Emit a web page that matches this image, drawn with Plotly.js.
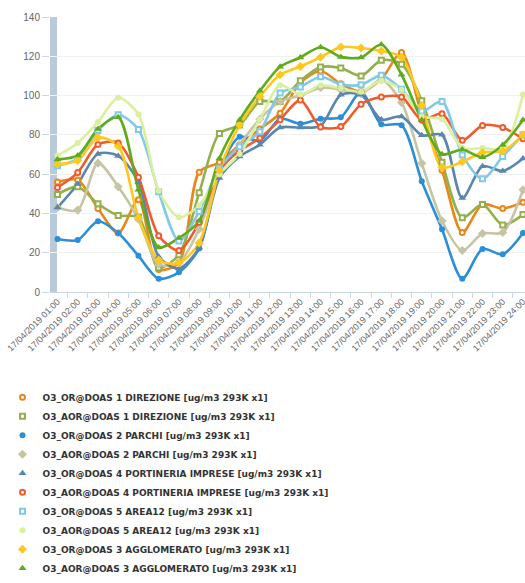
<!DOCTYPE html>
<html><head><meta charset="utf-8">
<script src="https://cdn.plot.ly/plotly-3.0.1.min.js"></script>
<style>html,body{margin:0;padding:0;background:#fff}#chart{width:525px;height:583px}</style>
</head><body><div id="chart"></div>
<script>
const categories = ['17/04/2019 01:00','17/04/2019 02:00','17/04/2019 03:00','17/04/2019 04:00','17/04/2019 05:00','17/04/2019 06:00','17/04/2019 07:00','17/04/2019 08:00','17/04/2019 09:00','17/04/2019 10:00','17/04/2019 11:00','17/04/2019 12:00','17/04/2019 13:00','17/04/2019 14:00','17/04/2019 15:00','17/04/2019 16:00','17/04/2019 17:00','17/04/2019 18:00','17/04/2019 19:00','17/04/2019 20:00','17/04/2019 21:00','17/04/2019 22:00','17/04/2019 23:00','17/04/2019 24:00'];

const seriesNames = [
  'O3_OR@DOAS 1 DIREZIONE [ug/m3 293K x1]',
  'O3_AOR@DOAS 1 DIREZIONE [ug/m3 293K x1]',
  'O3_OR@DOAS 2 PARCHI [ug/m3 293K x1]',
  'O3_AOR@DOAS 2 PARCHI [ug/m3 293K x1]',
  'O3_OR@DOAS 4 PORTINERIA IMPRESE [ug/m3 293K x1]',
  'O3_AOR@DOAS 4 PORTINERIA IMPRESE [ug/m3 293K x1]',
  'O3_OR@DOAS 5 AREA12 [ug/m3 293K x1]',
  'O3_AOR@DOAS 5 AREA12 [ug/m3 293K x1]',
  'O3_OR@DOAS 3 AGGLOMERATO [ug/m3 293K x1]',
  'O3_AOR@DOAS 3 AGGLOMERATO [ug/m3 293K x1]'
];

const orDirezione   = [56, 57, 42.5, 30, 47, 11.5, 15, 61, 66, 75, 83, 91, 106.5, 112.5, 106, 102, 108.4, 121.9, 90, 62, 30.3, 44.6, 42.5, 45.7];
const aorDirezione  = [49.7, 53.6, 44.9, 38.9, 38, 12.4, 19, 50.5, 80.7, 85, 97, 97, 107.5, 114.5, 114, 110, 118, 116, 97.4, 66, 37.8, 44.6, 34.1, 39.4];
const orParchi      = [27, 26.5, 36, 30, 18.4, 6.8, 10, 22.2, 62, 79, 77, 88.2, 85.6, 88.2, 89, 101.8, 85.4, 84.9, 56.4, 31.9, 6.8, 21.9, 19.2, 30];
const aorParchi     = [43, 41.7, 65.6, 53.6, 37, 14, 15, 32, 60, 75, 88, 97, 100, 104, 103, 101, 108, 96.5, 65.5, 36.2, 21.1, 29.8, 30.3, 52];
const orPortineria  = [43, 55, 70.3, 69.3, 56, 18, 12, 22.6, 58, 69, 75, 83.7, 83.7, 84.6, 100.4, 100.4, 87.8, 89.4, 79.8, 80, 47.8, 64, 61.6, 68];
const aorPortineria = [53.2, 60.8, 75.1, 75.9, 58.4, 28.6, 21.1, 35.5, 62, 72, 78.4, 87.7, 97.7, 84, 84.2, 95.6, 99.3, 99.3, 87.6, 90.8, 77.3, 84.8, 83.7, 78];
const orArea12      = [64.3, 68, 82.2, 90.2, 82.7, 51, 26, 41, 63, 74, 81.6, 101.3, 104.4, 109.6, 105.7, 105.5, 110.3, 103.2, 92.1, 97, 69.8, 57.6, 69, 80];
const aorArea12     = [69.5, 75.9, 86.5, 98.9, 90.5, 51.5, 38.1, 44, 60, 70.3, 88, 105.3, 100.5, 105.2, 103.7, 102, 107.5, 103, 89.4, 88, 73.3, 73.3, 73, 100.5];
const orAgglomerato = [65, 67, 78.6, 74.3, 37.8, 16.3, 14.8, 25, 62, 85, 99.5, 110.6, 114.8, 119.5, 124.7, 124.2, 122.7, 119.5, 95, 63.5, 66.3, 71, 71.7, 80];
const aorAgglomerato= [67.5, 69.5, 83, 89, 52, 22.7, 27.5, 36.2, 68, 87.6, 102.4, 114.7, 119.4, 124.6, 119.7, 119.4, 126, 110.6, 87.6, 70.1, 72.5, 68.6, 74.9, 87.6];

const yTickValues = [0, 20, 40, 60, 80, 100, 120, 140];

const seriesValues = [orDirezione, aorDirezione, orParchi, aorParchi, orPortineria, aorPortineria, orArea12, aorArea12, orAgglomerato, aorAgglomerato];
const seriesColors = ['#e8881c', '#93b04c', '#2b8fd8', '#c6c4a2', '#5a86ae', '#f25a2c', '#80c9ea', '#daf09e', '#ffc81e', '#5fab1c'];
const seriesSymbols = ['circle', 'square', 'circle', 'diamond', 'triangle-up', 'circle', 'square', 'circle', 'diamond', 'triangle-up'];
const seriesHollow = [true, true, false, false, false, true, true, false, false, false];

const traces = [];
seriesValues.forEach((vals, i) => {
  traces.push({
    type: 'scatter', mode: 'lines', x: categories, y: vals, showlegend: false, hoverinfo: 'skip',
    line: {color: seriesColors[i], width: 2.6, shape: 'spline', smoothing: 0.8}
  });
});
seriesValues.forEach((vals, i) => {
  const hollow = seriesHollow[i];
  traces.push({
    type: 'scatter', mode: 'markers', x: categories, y: vals, name: seriesNames[i],
    marker: {
      symbol: seriesSymbols[i],
      size: hollow ? 5 : (seriesSymbols[i] === 'circle' ? 6 : 7),
      color: hollow ? '#ffffff' : seriesColors[i],
      line: {color: seriesColors[i], width: hollow ? 2 : 0}
    }
  });
});

const layout = {
  width: 525, height: 583,
  margin: {l: 50, r: 0, t: 17, b: 272},
  paper_bgcolor: '#ffffff', plot_bgcolor: '#ffffff',
  font: {family: 'Liberation Sans, Arial, sans-serif', color: '#666666'},
  showlegend: true,
  xaxis: {
    type: 'category', range: [-0.37, 23.1], tickangle: -45,
    tickson: 'boundaries', ticks: 'outside', ticklen: 5, tickcolor: '#ccd6eb',
    showgrid: false, showline: true, linecolor: '#ccd6eb', linewidth: 1,
    tickfont: {size: 9, color: '#666666'}, zeroline: false, fixedrange: true
  },
  yaxis: {
    range: [0, 140], tickvals: yTickValues, ticktext: yTickValues.map(String),
    ticks: 'outside', ticklen: 7, tickcolor: '#ccd6eb',
    showgrid: true, gridcolor: '#f1f1f1', zeroline: false, showline: false,
    tickfont: {size: 10, color: '#666666'}, fixedrange: true
  },
  shapes: [{
    type: 'rect', xref: 'paper', yref: 'paper', x0: 0, x1: 7 / 475, y0: 0, y1: 1,
    fillcolor: '#b9cadb', line: {width: 0}, layer: 'below'
  }],
  legend: {
    x: -0.1, xanchor: 'left', y: -0.33, yanchor: 'top', orientation: 'v',
    font: {family: 'DejaVu Sans', size: 9, color: '#333333', weight: 'bold'},
    bgcolor: 'rgba(0,0,0,0)', tracegroupgap: 0
  }
};

Plotly.newPlot('chart', traces, layout, {displayModeBar: false, staticPlot: true});
</script>
</body></html>
